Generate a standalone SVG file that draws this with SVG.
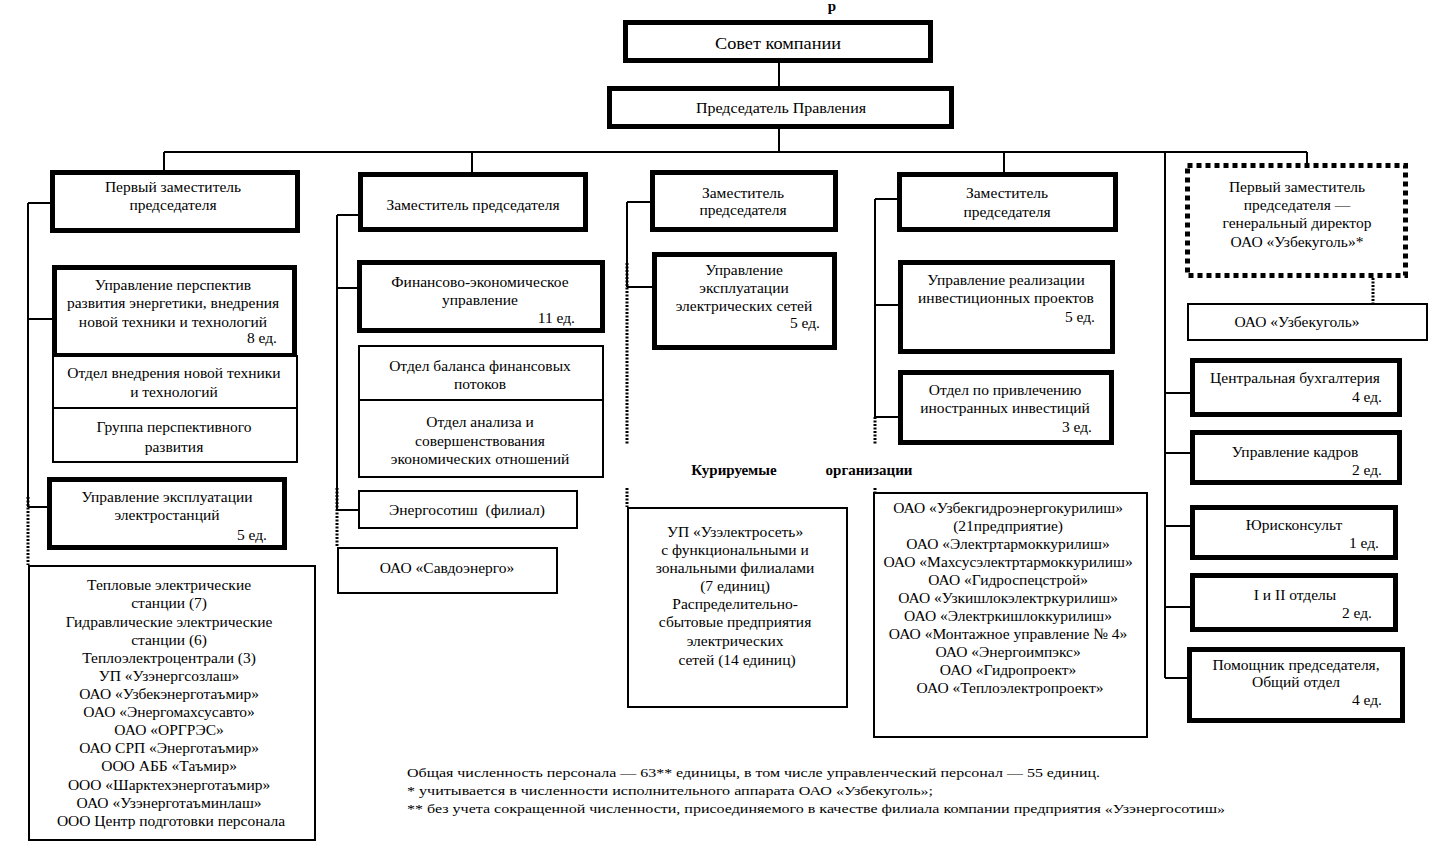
<svg xmlns="http://www.w3.org/2000/svg" width="1436" height="855" viewBox="0 0 1436 855">
<style>
text{font-family:"Liberation Serif","Times New Roman",serif;font-size:15.5px;fill:#000}
.c{text-anchor:middle}
.r{text-anchor:end}
.b{font-weight:bold;font-size:15px}
.thick{fill:#fff;stroke:#000;stroke-width:5}
.thin{fill:#fff;stroke:#000;stroke-width:2}
.dash{fill:#fff;stroke:#000;stroke-width:5;stroke-dasharray:5 4}
.ln{stroke:#000;stroke-width:2;fill:none}
.dot{stroke:#000;stroke-width:3;fill:none;stroke-dasharray:2 1.5}
</style>
<rect width="1436" height="855" fill="#fff"/>
<text x="832" y="11" class="c" style="font-size:15px;font-weight:bold">р</text>

<g id="connectors">
<path class="ln" d="M779 62V86M779 128V152M164 152H1307M164 152V172M472 152V172M1004 152V172M1307 152V163"/>
<path class="ln" d="M1165 152V678M1165 393H1190M1165 453H1190M1165 526H1190M1165 607H1190M1165 678H1187"/>
<path class="ln" d="M28 203V507M28 203H50M28 319H52M28 507H47"/>
<path class="dot" d="M28 497V565"/>
<path class="ln" d="M337 215V510M337 215H358M337 288H357M337 510H358"/>
<path class="dot" d="M337 488V547"/>
<path class="ln" d="M627 202V287M627 202H650M627 287H652"/>
<path class="dot" d="M627 263V445M627 488V507"/>
<path class="ln" d="M875 199V417M875 199H897M875 305H898M875 417H898"/>
<path class="dot" d="M875 417V445M875 488V543"/>
<path class="dot" d="M1373 278V303"/>
</g>

<g id="sovet">
<rect class="thick" x="625.5" y="22.5" width="305" height="38"/>
<text x="778" y="49" class="c" style="font-size:17px" textLength="126" lengthAdjust="spacingAndGlyphs">Совет компании</text>
</g>
<g id="predsedatel">
<rect class="thick" x="609.5" y="88.5" width="342" height="38"/>
<text x="781" y="113" class="c" style="font-size:15px" textLength="170" lengthAdjust="spacingAndGlyphs">Председатель Правления</text>
</g>

<!-- Column 1 -->
<g id="zam1">
<rect class="thick" x="52.5" y="172.5" width="245" height="58"/>
<text x="173" y="192" class="c">Первый заместитель</text>
<text x="173" y="210" class="c">председателя</text>
</g>
<g id="upr-perspektiv">
<rect class="thick" x="54.5" y="267.5" width="240" height="88"/>
<text x="173" y="290" class="c">Управление перспектив</text>
<text x="173" y="308" class="c">развития энергетики, внедрения</text>
<text x="173" y="327" class="c">новой техники и технологий</text>
<text x="277" y="343" class="r">8 ед.</text>
</g>
<g id="otdel-vnedr">
<rect class="thin" x="53" y="356" width="244" height="52"/>
<text x="174" y="378" class="c">Отдел внедрения новой техники</text>
<text x="174" y="397" class="c">и технологий</text>
</g>
<g id="gruppa">
<rect class="thin" x="53" y="408" width="244" height="54"/>
<text x="174" y="432" class="c">Группа перспективного</text>
<text x="174" y="452" class="c">развития</text>
</g>
<g id="upr-elst">
<rect class="thick" x="49.5" y="479.5" width="235" height="68"/>
<text x="167" y="502" class="c">Управление эксплуатации</text>
<text x="167" y="520" class="c">электростанций</text>
<text x="267" y="540" class="r">5 ед.</text>
</g>
<g id="org1">
<rect class="thin" x="29" y="566" width="286" height="274"/>
<text class="c" x="171">
<tspan x="171" y="590">Тепловые электрические</tspan>
<tspan x="171" y="608">станции (7)</tspan>
<tspan x="171" y="627">Гидравлические электрические</tspan>
<tspan x="171" y="645">станции (6)</tspan>
<tspan x="171" y="663">Теплоэлектроцентрали (3)</tspan>
<tspan x="171" y="681">УП «Узэнергсозлаш»</tspan>
<tspan x="171" y="699">ОАО «Узбекэнерготаъмир»</tspan>
<tspan x="171" y="717">ОАО «Энергомахсусавто»</tspan>
<tspan x="171" y="735">ОАО «ОРГРЭС»</tspan>
<tspan x="171" y="753">ОАО СРП «Энерготаъмир»</tspan>
<tspan x="171" y="771">ООО АББ «Таъмир»</tspan>
<tspan x="171" y="790">ООО «Шарктехэнерготаъмир»</tspan>
<tspan x="171" y="808">ОАО «Узэнерготаъминлаш»</tspan>
<tspan x="171" y="826">ООО Центр подготовки персонала</tspan>
</text>
</g>

<!-- Column 2 -->
<g id="zam2">
<rect class="thick" x="360.5" y="174.5" width="225" height="55"/>
<text x="473" y="210" class="c">Заместитель председателя</text>
</g>
<g id="fin-econ">
<rect class="thick" x="359.5" y="262.5" width="243" height="68"/>
<text x="480" y="287" class="c">Финансово-экономическое</text>
<text x="480" y="305" class="c">управление</text>
<text x="575" y="323" class="r">11 ед.</text>
</g>
<g id="otdel-balans">
<rect class="thin" x="359" y="346" width="244" height="54"/>
<text x="480" y="371" class="c">Отдел баланса финансовых</text>
<text x="480" y="389" class="c">потоков</text>
</g>
<g id="otdel-analiz">
<rect class="thin" x="359" y="400" width="244" height="77"/>
<text x="480" y="427" class="c">Отдел анализа и</text>
<text x="480" y="446" class="c">совершенствования</text>
<text x="480" y="464" class="c">экономических отношений</text>
</g>
<g id="energosotish">
<rect class="thin" x="359" y="491" width="218" height="37"/>
<text x="467" y="515" class="c" xml:space="preserve">Энергосотиш  (филиал)</text>
</g>
<g id="savdoenergo">
<rect class="thin" x="338" y="548" width="219" height="45"/>
<text x="447" y="573" class="c">ОАО «Савдоэнерго»</text>
</g>

<!-- Column 3 -->
<g id="zam3">
<rect class="thick" x="652.5" y="172.5" width="183" height="57"/>
<text x="743" y="198" class="c">Заместитель</text>
<text x="743" y="215" class="c">председателя</text>
</g>
<g id="upr-seti">
<rect class="thick" x="654.5" y="254.5" width="180" height="93"/>
<text x="744" y="275" class="c">Управление</text>
<text x="744" y="293" class="c">эксплуатации</text>
<text x="744" y="311" class="c">электрических сетей</text>
<text x="820" y="328" class="r">5 ед.</text>
</g>
<text x="734" y="475" class="c b">Курируемые</text>
<text x="869" y="475" class="c b">организации</text>
<g id="uzelektroset">
<rect class="thin" x="628" y="508" width="219" height="199"/>
<text class="c" x="737">
<tspan x="737" y="537">УП «Узэлектросеть»</tspan>
<tspan x="737" y="555">с функциональными и</tspan>
<tspan x="737" y="573">зональными филиалами</tspan>
<tspan x="737" y="591">(7 единиц)</tspan>
<tspan x="737" y="609">Распределительно-</tspan>
<tspan x="737" y="627">сбытовые предприятия</tspan>
<tspan x="737" y="646">электрических</tspan>
<tspan x="737" y="665">сетей (14 единиц)</tspan>
</text>
</g>

<!-- Column 4 -->
<g id="zam4">
<rect class="thick" x="899.5" y="174.5" width="216" height="55"/>
<text x="1007" y="198" class="c">Заместитель</text>
<text x="1007" y="217" class="c">председателя</text>
</g>
<g id="upr-invest">
<rect class="thick" x="900.5" y="262.5" width="212" height="89"/>
<text x="1006" y="285" class="c">Управление реализации</text>
<text x="1006" y="303" class="c">инвестиционных проектов</text>
<text x="1095" y="322" class="r">5 ед.</text>
</g>
<g id="otdel-inostr">
<rect class="thick" x="900.5" y="372.5" width="211" height="70"/>
<text x="1005" y="395" class="c">Отдел по привлечению</text>
<text x="1005" y="413" class="c">иностранных инвестиций</text>
<text x="1092" y="432" class="r">3 ед.</text>
</g>
<g id="org4">
<rect class="thin" x="874" y="493" width="273" height="244"/>
<text class="c" x="1010">
<tspan x="1010" y="513">ОАО «Узбекгидроэнергокурилиш»</tspan>
<tspan x="1010" y="531">(21предприятие)</tspan>
<tspan x="1010" y="549">ОАО «Электртармоккурилиш»</tspan>
<tspan x="1010" y="567">ОАО «Махсусэлектртармоккурилиш»</tspan>
<tspan x="1010" y="585">ОАО «Гидроспецстрой»</tspan>
<tspan x="1010" y="603">ОАО «Узкишлокэлектркурилиш»</tspan>
<tspan x="1010" y="621">ОАО «Электркишлоккурилиш»</tspan>
<tspan x="1010" y="639">ОАО «Монтажное управление № 4»</tspan>
<tspan x="1010" y="657">ОАО «Энергоимпэкс»</tspan>
<tspan x="1010" y="675">ОАО «Гидропроект»</tspan>
<tspan x="1010" y="693">ОАО «Теплоэлектропроект»</tspan>
</text>
</g>

<!-- Column 5 -->
<g id="zam5">
<rect class="dash" x="1187.5" y="165.5" width="218" height="110"/>
<text x="1297" y="192" class="c">Первый заместитель</text>
<text x="1297" y="210" class="c">председателя —</text>
<text x="1297" y="228" class="c">генеральный директор</text>
<text x="1297" y="247" class="c">ОАО «Узбекуголь»*</text>
</g>
<g id="uzbekugol">
<rect class="thin" x="1188" y="304" width="239" height="36"/>
<text x="1297" y="327" class="c">ОАО «Узбекуголь»</text>
</g>
<g id="buh">
<rect class="thick" x="1192.5" y="360.5" width="207" height="54"/>
<text x="1295" y="383" class="c">Центральная бухгалтерия</text>
<text x="1382" y="402" class="r">4 ед.</text>
</g>
<g id="kadry">
<rect class="thick" x="1192.5" y="432.5" width="207" height="50"/>
<text x="1295" y="457" class="c">Управление кадров</text>
<text x="1382" y="475" class="r">2 ед.</text>
</g>
<g id="yurist">
<rect class="thick" x="1192.5" y="507.5" width="203" height="50"/>
<text x="1294" y="530" class="c">Юрисконсульт</text>
<text x="1379" y="548" class="r">1 ед.</text>
</g>
<g id="otdely12">
<rect class="thick" x="1192.5" y="575.5" width="203" height="54"/>
<text x="1295" y="600" class="c">I и II отделы</text>
<text x="1372" y="618" class="r">2 ед.</text>
</g>
<g id="pomoshnik">
<rect class="thick" x="1189.5" y="649.5" width="213" height="71"/>
<text x="1296" y="670" class="c">Помощник председателя,</text>
<text x="1296" y="687" class="c">Общий отдел</text>
<text x="1382" y="705" class="r">4 ед.</text>
</g>

<g id="footer">
<text x="407" y="777" style="font-size:13px" textLength="693" lengthAdjust="spacingAndGlyphs">Общая численность персонала — 63** единицы, в том числе управленческий персонал — 55 единиц.</text>
<text x="407" y="795" style="font-size:13px" textLength="526" lengthAdjust="spacingAndGlyphs">* учитывается в численности исполнительного аппарата ОАО «Узбекуголь»;</text>
<text x="407" y="813" style="font-size:13px" textLength="818" lengthAdjust="spacingAndGlyphs">** без учета сокращенной численности, присоединяемого в качестве филиала компании предприятия «Узэнергосотиш»</text>
</g>
</svg>
